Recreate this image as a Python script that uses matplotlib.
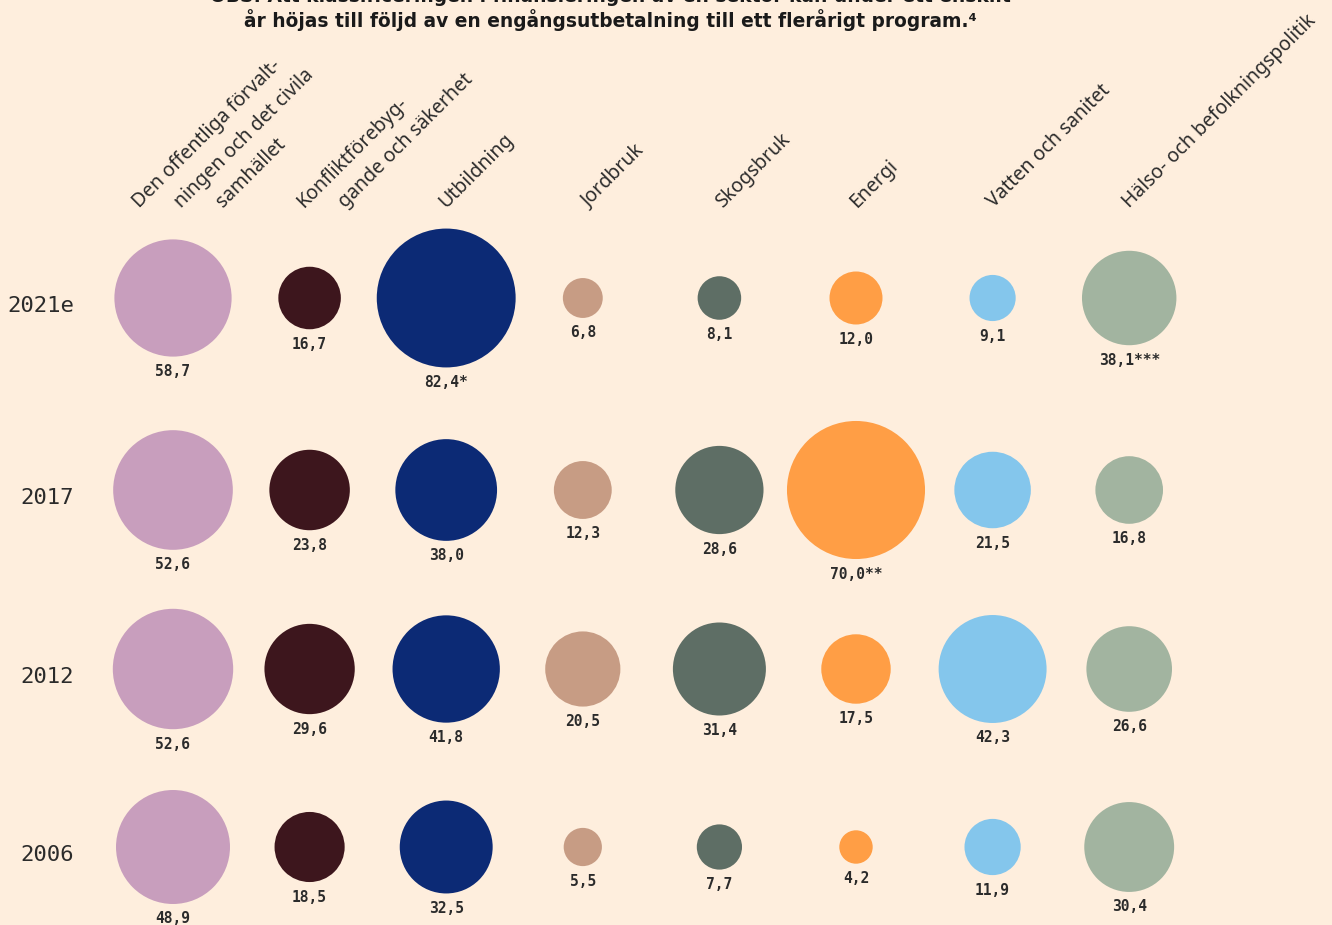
import numpy as np
import matplotlib
matplotlib.use("Agg")
import matplotlib.pyplot as plt

# data
years = ["2021e", "2017", "2012", "2006"]
sectors = [
    "Den offentliga förvalt-\nningen och det civila\nsamhället",
    "Konfliktförebyg-\ngande och säkerhet",
    "Utbildning",
    "Jordbruk",
    "Skogsbruk",
    "Energi",
    "Vatten och sanitet",
    "Hälso- och befolkningspolitik",
]
v2021 = [58.7, 16.7, 82.4, 6.8, 8.1, 12.0, 9.1, 38.1]
v2017 = [52.6, 23.8, 38.0, 12.3, 28.6, 70.0, 21.5, 16.8]
v2012 = [52.6, 29.6, 41.8, 20.5, 31.4, 17.5, 42.3, 26.6]
v2006 = [48.9, 18.5, 32.5, 5.5, 7.7, 4.2, 11.9, 30.4]
notes2021 = ["", "", "*", "", "", "", "", "***"]
notes2017 = ["", "", "", "", "", "**", "", ""]
notes2012 = [""] * 8
notes2006 = [""] * 8

rows = [v2021, v2017, v2012, v2006]
notes = [notes2021, notes2017, notes2012, notes2006]

colors = ["#C89EBD", "#3D161D", "#0C2A75", "#C79C84",
          "#5E6E65", "#FF9E45", "#84C6EC", "#A2B4A0"]
bg = "#FEEEDD"
txt = "#2B2B2B"

# layout (pixels)
W, H = 1332, 925
col_x = 173 + 136.6 * np.arange(len(sectors))
row_y = [298, 490, 669, 847]
row_scale = [15.3, 16.5, 16.6, 16.3]  # diameter px per sqrt(value)
header_dx = [8, 15, 0, 6, 3, 1, 1, 0]

fig = plt.figure(figsize=(W / 100, H / 100), dpi=100, facecolor=bg)
ax = fig.add_axes([0, 0, 1, 1])
ax.set_facecolor(bg)
ax.set_xlim(0, W)
ax.set_ylim(H, 0)
ax.axis("off")

for r, (vals, nts) in enumerate(zip(rows, notes)):
    vals = np.array(vals)
    d_px = row_scale[r] * np.sqrt(vals)
    s = (d_px * 0.72) ** 2
    ax.scatter(col_x, [row_y[r]] * len(vals), s=s, c=colors, linewidths=0, zorder=2)
    for x, v, d, n in zip(col_x, vals, d_px, nts):
        lab = f"{v:.1f}".replace(".", ",") + n
        ax.text(x, row_y[r] + d / 2 + 15, lab, ha="center", va="center",
                fontsize=10.5, fontweight="bold", family="DejaVu Sans Mono", color=txt)
    ax.text(74, row_y[r] + 8, years[r], ha="right", va="center",
            fontsize=16, family="DejaVu Sans Mono", color=txt)

# sector headers, rotated 45 degrees, line starts on a common baseline
for x, dx, name in zip(col_x, header_dx, sectors):
    lines = name.split("\n")
    n = len(lines)
    for i, line in enumerate(lines):
        x0 = x + dx + (i - (n - 1) / 2) * 42
        ax.text(x0, 208, line, rotation=45, rotation_mode="anchor",
                ha="left", va="baseline", fontsize=14, family="Noto Sans", color=txt)

# title (top line cut off in the original)
ax.text(610, -4, "OBS: Att klassificeringen i finansieringen av en sektor kan under ett enskilt",
        ha="center", va="center", fontsize=13.4, fontweight="bold", family="DejaVu Sans",
        color="#1a1a1a")
ax.text(610, 20, "år höjas till följd av en engångsutbetalning till ett flerårigt program.⁴",
        ha="center", va="center", fontsize=13.4, fontweight="bold", family="DejaVu Sans",
        color="#1a1a1a")

fig.savefig("out.png", dpi=100, facecolor=bg)
